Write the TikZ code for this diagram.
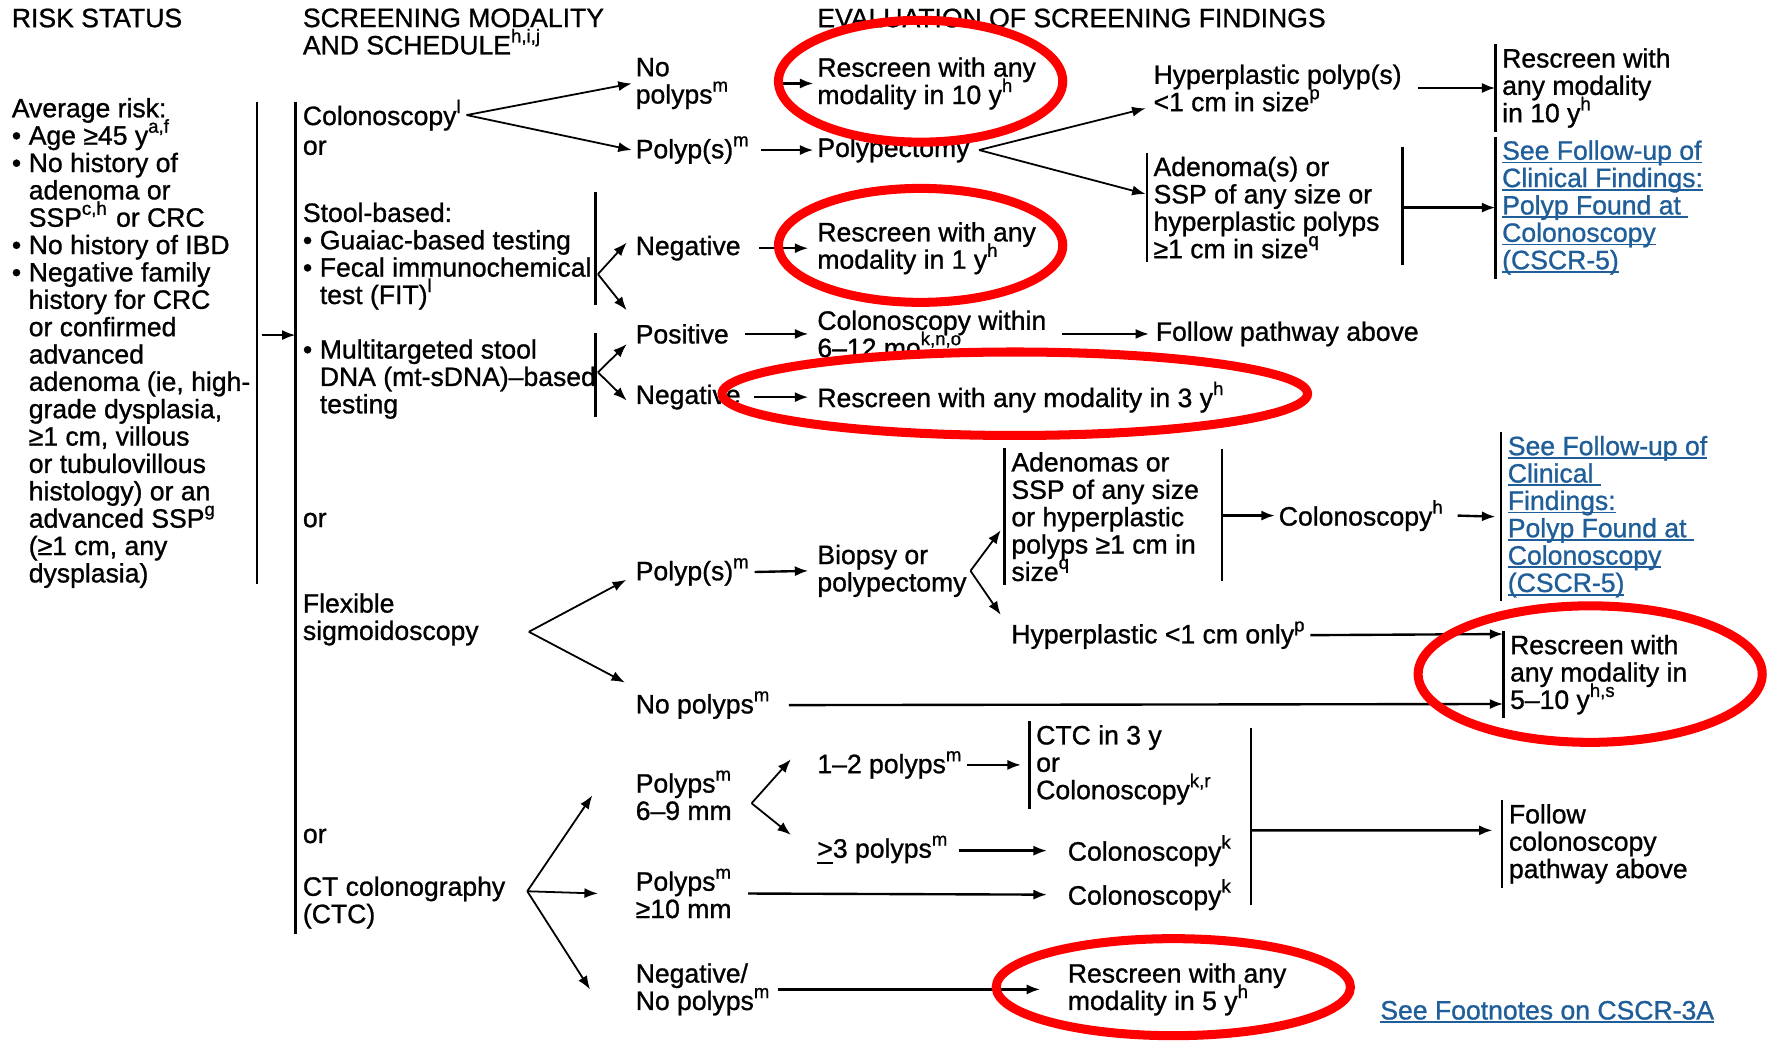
\documentclass[tikz,border=0pt]{standalone}
\usepackage{fontspec}
\setmainfont{Liberation Sans}[FakeBold=1.0]
\usepackage{tikz}
\usetikzlibrary{arrows.meta}
\definecolor{linkblue}{RGB}{31,94,153}
\newcommand{\bul}{\makebox[1.5mm][l]{\textbullet}}
\newcommand{\bind}{\hspace*{1.5mm}}
\newcommand{\sps}[1]{\textsuperscript{#1}}
\newcommand{\lnk}[1]{\setbox0\hbox{#1}\rlap{\rule[-0.9pt]{\wd0}{0.45pt}}\box0}
\newcommand{\chartfont}{\fontsize{6.7}{6.9}\selectfont\setlength{\lineskiplimit}{-10pt}}

\begin{document}
\begin{tikzpicture}[x=0.1mm,y=-0.1mm,>={Latex[length=1.2mm,width=0.9mm]},
  txt/.style={anchor=west,align=left,inner sep=0pt,outer sep=1pt,font=\chartfont},
  link/.style={txt,text=linkblue},
  arr/.style={->,line width=0.6pt},
  fan/.style={->,line width=0.45pt},
  bar/.style={line width=0.6pt},
  ring/.style={draw=red,line width=0.8mm}]

% Canvas (one unit = one pixel, y runs downwards)
\fill[white] (0,0) rectangle (1568,923);
\useasboundingbox (0,0) rectangle (1568,923);

% Column positions (node west side, 3 units left of the text)
\def\xrisk{7}       % risk status
\def\xmod{265}      % screening modality
\def\xfind{560}     % first findings
\def\xeval{721}     % evaluation

% Column headers
\node[txt] (hrisk) at (\xrisk,16) {RISK STATUS};
\node[txt] (hmod) at (\xmod,28) {SCREENING MODALITY\\AND SCHEDULE\sps{h,i,j}};
\node[txt] (heval) at (\xeval,16) {EVALUATION OF SCREENING FINDINGS};

% Risk status
\node[txt] (risk) at (\xrisk,304) {Average risk:\\
  \bul Age ≥45 y\sps{a,f}\\
  \bul No history of\\
  \bind adenoma or\\
  \bind SSP\sps{c,h} or CRC\\
  \bul No history of IBD\\
  \bul Negative family\\
  \bind history for CRC\\
  \bind or confirmed\\
  \bind advanced\\
  \bind adenoma (ie, high-\\
  \bind grade dysplasia,\\
  \bind ≥1 cm, villous\\
  \bind or tubulovillous\\
  \bind histology) or an\\
  \bind advanced SSP\sps{g}\\
  \bind (≥1 cm, any\\
  \bind dysplasia)};
\draw[bar] (228,90) -- (228,518);
\draw[bar] (262,90) -- (262,828);
\coordinate (rbar) at (228,297);
\coordinate (mbar) at (262,297);
\draw[arr] ([xshift=0.4mm]rbar) -- (mbar);

% Screening modalities
\node[txt] (colo) at (\xmod,102) {Colonoscopy\sps{l}};
\node[txt] (or1) at (\xmod,131) {or};
\node[txt] (stool) at (\xmod,227) {Stool-based:\\\bul Guaiac-based testing\\\bul Fecal immunochemical\\\bind test (FIT)\sps{l}};
\node[txt] (mtdna) at (\xmod,336) {\bul Multitargeted stool\\\bind DNA (mt-sDNA)–based\\\bind testing};
\node[txt] (or2) at (\xmod,461) {or};
\node[txt] (flex) at (\xmod,549) {Flexible\\sigmoidoscopy};
\node[txt] (or3) at (\xmod,741) {or};
\node[txt] (ctc) at (\xmod,800) {CT colonography\\(CTC)};
\draw[bar] (528,170) -- (528,270);
\draw[bar] (528,295) -- (528,370);
\coordinate (sfan) at (530,243);
\coordinate (mfan) at (530,330);

% Colonoscopy findings
\node[txt] (nopol) at (\xfind,74) {No\\polyps\sps{m}};
\node[txt] (polyp) at (\xfind,133) {Polyp(s)\sps{m}};
\node[txt] (resc10) at (\xeval,74) {Rescreen with any\\modality in 10 y\sps{h}};
\node[txt] (polypect) at (\xeval,133) {Polypectomy};
\node[txt] (hyper) at (1019,78) {Hyperplastic polyp(s)\\<1 cm in size\sps{p}};
\node[txt] (adenoma) at (1019,184) {Adenoma(s) or\\SSP of any size or\\hyperplastic polyps\\≥1 cm in size\sps{q}};
\node[txt] (resc10b) at (1328,78) {Rescreen with\\any modality\\in 10 y\sps{h}};
\node[link] (link1) at (1328,184) {\lnk{See Follow-up of}\\\lnk{Clinical Findings:}\\\lnk{Polyp Found at\ }\\\lnk{Colonoscopy}\\\lnk{(CSCR-5)}};
\draw[bar] (1243,130) -- (1243,235);
\coordinate (abar1) at (1243,184);
\draw[fan] (colo.east) -- (nopol.west);
\draw[fan] (colo.east) -- (polyp.west);
\draw[arr] ([xshift=4mm]nopol.east) -- (resc10.west);
\draw[arr] ([xshift=0.6mm]polyp.east) -- (polypect.west);
\draw[fan] ([xshift=0.5mm]polypect.east) -- ([xshift=-0.35mm,yshift=-1.8mm]hyper.west);
\draw[fan] ([xshift=0.5mm]polypect.east) -- ([xshift=-0.35mm,yshift=1.2mm]adenoma.west);
\draw[arr] ([xshift=1.1mm]hyper.east) -- ([xshift=-0.25mm]resc10b.west);
\draw[arr] (abar1) -- ([xshift=-0.25mm]link1.west);

% Stool-based findings
\node[txt] (neg1) at (\xfind,220) {Negative};
\node[txt] (resc1) at (\xeval,220) {Rescreen with any\\modality in 1 y\sps{h}};
\node[txt] (pos) at (\xfind,296) {Positive};
\node[txt] (colwithin) at (\xeval,296) {Colonoscopy within\\6–12 mo\sps{k,n,o}};
\node[txt] (follow) at (1021,296) {Follow pathway above};
\node[txt] (neg2) at (\xfind,352) {Negative};
\node[txt] (resc3) at (\xeval,352) {Rescreen with any modality in 3 y\sps{h}};
\draw[fan] (sfan) -- ([xshift=-0.45mm,yshift=0.5mm]neg1.west);
\draw[fan] (sfan) -- ([xshift=-0.45mm,yshift=2.1mm]pos.west);
\draw[fan] (mfan) -- ([xshift=-0.45mm,yshift=-0.9mm]pos.west);
\draw[fan] (mfan) -- ([xshift=-0.45mm,yshift=-0.3mm]neg2.west);
\draw[arr] ([xshift=1.3mm]neg1.east) -- ([xshift=-0.45mm]resc1.west);
\draw[arr] ([xshift=1.1mm]pos.east) -- ([xshift=-0.45mm]colwithin.west);
\draw[arr] ([xshift=1mm]colwithin.east) -- ([xshift=-0.25mm]follow.west);
\draw[arr] ([xshift=0.8mm]neg2.east) -- ([xshift=-0.45mm]resc3.west);

% Flexible sigmoidoscopy findings
\node[txt] (polyp2) at (\xfind,507) {Polyp(s)\sps{m}};
\node[txt] (biopsy) at (\xeval,506) {Biopsy or\\polypectomy};
\node[txt] (adenomas) at (893,458) {Adenomas or\\SSP of any size\\or hyperplastic\\polyps ≥1 cm in\\size\sps{q}};
\node[txt] (colh) at (1130,457) {Colonoscopy\sps{h}};
\node[link] (link2) at (1333,458) {\lnk{See Follow-up of}\\\lnk{Clinical\ }\\\lnk{Findings:}\\\lnk{Polyp Found at\ }\\\lnk{Colonoscopy}\\\lnk{(CSCR-5)}};
\node[txt] (hyperonly) at (893,563) {Hyperplastic <1 cm only\sps{p}};
\node[txt] (nopol2) at (\xfind,625) {No polyps\sps{m}};
\node[txt] (resc510) at (1335,598) {Rescreen with\\any modality in\\5–10 y\sps{h,s}};
\draw[bar] (1083,398) -- (1083,515);
\coordinate (abar2) at (1083,457);
\coordinate (ffan) at ([xshift=4.1mm,yshift=-1.1mm]flex.east);
\draw[fan] (ffan) -- ([xshift=-0.5mm,yshift=-0.7mm]polyp2.west);
\draw[fan] (ffan) -- ([xshift=-0.6mm,yshift=2mm]nopol2.west);
\draw[arr] (polyp2.east) -- ([xshift=-0.45mm]biopsy.west);
\draw[fan] (biopsy.east) -- ([xshift=-0.6mm,yshift=-1.2mm]adenomas.west);
\draw[fan] (biopsy.east) -- ([xshift=-0.6mm,yshift=1.8mm]hyperonly.west);
\draw[arr] (abar2) -- (colh.west);
\draw[arr] ([xshift=0.8mm]colh.east) -- ([xshift=-0.75mm]link2.west);
\draw[arr] (hyperonly.east) -- ([xshift=-0.25mm,yshift=3.6mm]resc510.west);
\draw[arr] ([xshift=1.2mm]nopol2.east) -- ([xshift=-0.25mm,yshift=-2.6mm]resc510.west);

% CT colonography findings
\node[txt] (p69) at (\xfind,705) {Polyps\sps{m}\\6–9 mm};
\node[txt] (p12) at (\xeval,678) {1–2 polyps\sps{m}};
\node[txt] (ctc3) at (915,678) {CTC in 3 y\\or\\Colonoscopy\sps{k,r}};
\node[txt] (p3) at (\xeval,754) {\underline{>}3 polyps\sps{m}};
\node[txt] (colk1) at (943,754) {Colonoscopy\sps{k}};
\node[txt] (p10) at (\xfind,792) {Polyps\sps{m}\\≥10 mm};
\node[txt] (colk2) at (943,793) {Colonoscopy\sps{k}};
\node[txt] (followcol) at (1334,748) {Follow\\colonoscopy\\pathway above};
\node[txt] (negnp) at (\xfind,877) {Negative/\\No polyps\sps{m}};
\node[txt] (resc5) at (943,877) {Rescreen with any\\modality in 5 y\sps{h}};
\node[link] (foot) at (1220,897) {\lnk{See Footnotes on CSCR-3A}};
\draw[bar] (1109,645) -- (1109,802);
\coordinate (cbar) at (1109,736);
\coordinate (cfan) at ([xshift=1.6mm,yshift=1mm]ctc.east);
\coordinate (pfan) at ([xshift=1.3mm,yshift=-0.7mm]p69.east);
\draw[fan] (cfan) -- ([xshift=-3.5mm]p69.west);
\draw[fan] (cfan) -- ([xshift=-3mm]p10.west);
\draw[fan] (cfan) -- ([xshift=-3.7mm]negnp.west);
\draw[fan] (pfan) -- ([xshift=-2mm,yshift=0.5mm]p12.west);
\draw[fan] (pfan) -- ([xshift=-2mm,yshift=1.4mm]p3.west);
\draw[arr] (p12.east) -- ([xshift=-1mm]ctc3.west);
\draw[arr] ([xshift=0.5mm]p3.east) -- ([xshift=-1.5mm]colk1.west);
\draw[arr] ([xshift=1mm]p10.east) -- ([xshift=-1.5mm]colk2.west);
\draw[arr] (cbar) -- ([xshift=-1.1mm,yshift=1.2mm]followcol.west);
\draw[arr] ([xshift=0.2mm]negnp.east) -- ([xshift=-2.1mm]resc5.west);

% Bars left of the outcome boxes
\foreach \n in {resc10b,link1,adenoma,adenomas,link2,resc510,ctc3,followcol}
  \draw[bar] ([xshift=-0.25mm]\n.north west) -- ([xshift=-0.25mm]\n.south west);

% Red rings
\draw[ring] (816,72) ellipse [x radius=12.6mm, y radius=5.4mm];
\draw[ring] (816,217.5) ellipse [x radius=12.6mm, y radius=5.05mm];
\draw[ring] (899.5,349) ellipse [x radius=25.95mm, y radius=3.7mm];
\draw[ring] (1409.5,597.5) ellipse [x radius=15.25mm, y radius=6.05mm];
\draw[ring] (1040,875) ellipse [x radius=15.7mm, y radius=4.3mm];

\end{tikzpicture}
\end{document}
